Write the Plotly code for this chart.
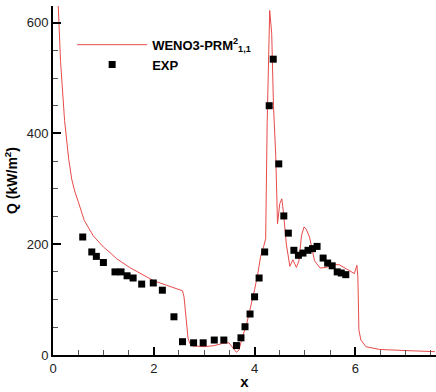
import plotly.graph_objects as go

# WENO3-PRM line
line_x = [0.09, 0.105, 0.15, 0.23, 0.31, 0.37, 0.43, 0.5, 0.62, 0.8, 1.0, 1.13, 1.26, 1.52, 1.75, 2.0, 2.25, 2.57,
          2.6, 2.64, 2.68, 2.72, 2.78, 2.85, 3.0, 3.2, 3.37, 3.49, 3.57, 3.64, 3.69, 3.76, 3.84, 3.9, 4.0,
          4.07, 4.12, 4.18, 4.22, 4.25, 4.285, 4.30, 4.34, 4.375, 4.42, 4.455, 4.50, 4.54, 4.57, 4.63,
          4.70, 4.76, 4.83, 4.88, 4.93, 4.98, 5.02, 5.09, 5.19, 5.3, 5.42, 5.55, 5.68, 5.82, 5.98, 6.03,
          6.05, 6.07, 6.11, 6.21, 6.48, 7.0, 7.58]
line_y = [660, 629, 530, 423, 355, 318, 296, 277, 243, 215, 195, 185, 174, 158, 146, 134, 126, 116,
          105, 65, 30, 20, 16, 16, 15, 17, 21, 22, 12, 5, 9, 33, 55, 78, 118,
          150, 178, 196, 210, 420, 580, 622, 580, 450, 360, 237, 273, 282, 260, 200,
          160, 172, 158, 170, 215, 231, 228, 213, 170, 157, 158, 163, 163, 155, 147, 162,
          141, 45, 27, 15, 10, 8, 6]

# EXP data
exp_x = [0.59, 0.77, 0.86, 1.0, 1.23, 1.35, 1.47, 1.59, 1.76, 1.99, 2.17, 2.40, 2.57, 2.79, 2.98, 3.2,
         3.39, 3.64, 3.73, 3.81, 3.91, 4.0, 4.09, 4.2, 4.29, 4.37, 4.48, 4.58, 4.67, 4.78, 4.87, 4.96,
         5.06, 5.15, 5.24, 5.36, 5.45, 5.54, 5.64, 5.72, 5.81]
exp_y = [213, 186, 178, 167, 150, 150, 143, 139, 128, 130, 117, 69, 24, 22, 22, 27,
         27, 17, 31, 51, 74, 105, 139, 186, 450, 534, 345, 251, 220, 189, 180, 184,
         189, 192, 196, 175, 166, 161, 150, 148, 145]

x_ticks = [0, 2, 4, 6]
y_ticks = [0, 200, 400, 600]

fig = go.Figure()
fig.add_trace(go.Scatter(x=line_x, y=line_y, mode="lines",
                         line=dict(color="#e84a4a", width=1),
                         name="WENO3-PRM<sup>2</sup><sub>1,1</sub>"))
fig.add_trace(go.Scatter(x=exp_x, y=exp_y, mode="markers",
                         marker=dict(symbol="square", size=7, color="black"),
                         name="EXP"))

font = "Liberation Sans, Arial, sans-serif"
fig.update_layout(
    width=436, height=392,
    margin=dict(l=53, r=0, t=6, b=37),
    plot_bgcolor="white", paper_bgcolor="white",
    font=dict(family=font, size=13, color="#222"),
    showlegend=True,
    legend=dict(x=0.05, y=0.932, xanchor="left", yanchor="top",
                bgcolor="rgba(0,0,0,0)", itemwidth=70,
                font=dict(family=font, size=13, color="black", weight="bold"),
                tracegroupgap=0),
    xaxis=dict(range=[0, 7.6], tickvals=x_ticks, ticks="inside", ticklen=8, tickwidth=2,
               tickcolor="black", showline=True, linecolor="black", linewidth=2,
               showgrid=False, zeroline=False,
               minor=dict(ticks="inside", dtick=0.5, ticklen=5, tickwidth=1, tickcolor="#555"),
               title=dict(text="<b>x</b>", font=dict(size=15, color="black"), standoff=2)),
    yaxis=dict(range=[0, 630], tickvals=y_ticks, ticks="inside", ticklen=8, tickwidth=2,
               tickcolor="black", showline=True, linecolor="black", linewidth=2,
               showgrid=False, zeroline=False,
               minor=dict(ticks="inside", dtick=50, ticklen=5, tickwidth=1, tickcolor="#555"),
               title=dict(text="<b>Q (kW/m<sup>2</sup>)</b>", font=dict(size=14, color="black"), standoff=6)),
)

fig.write_html("out.html")
